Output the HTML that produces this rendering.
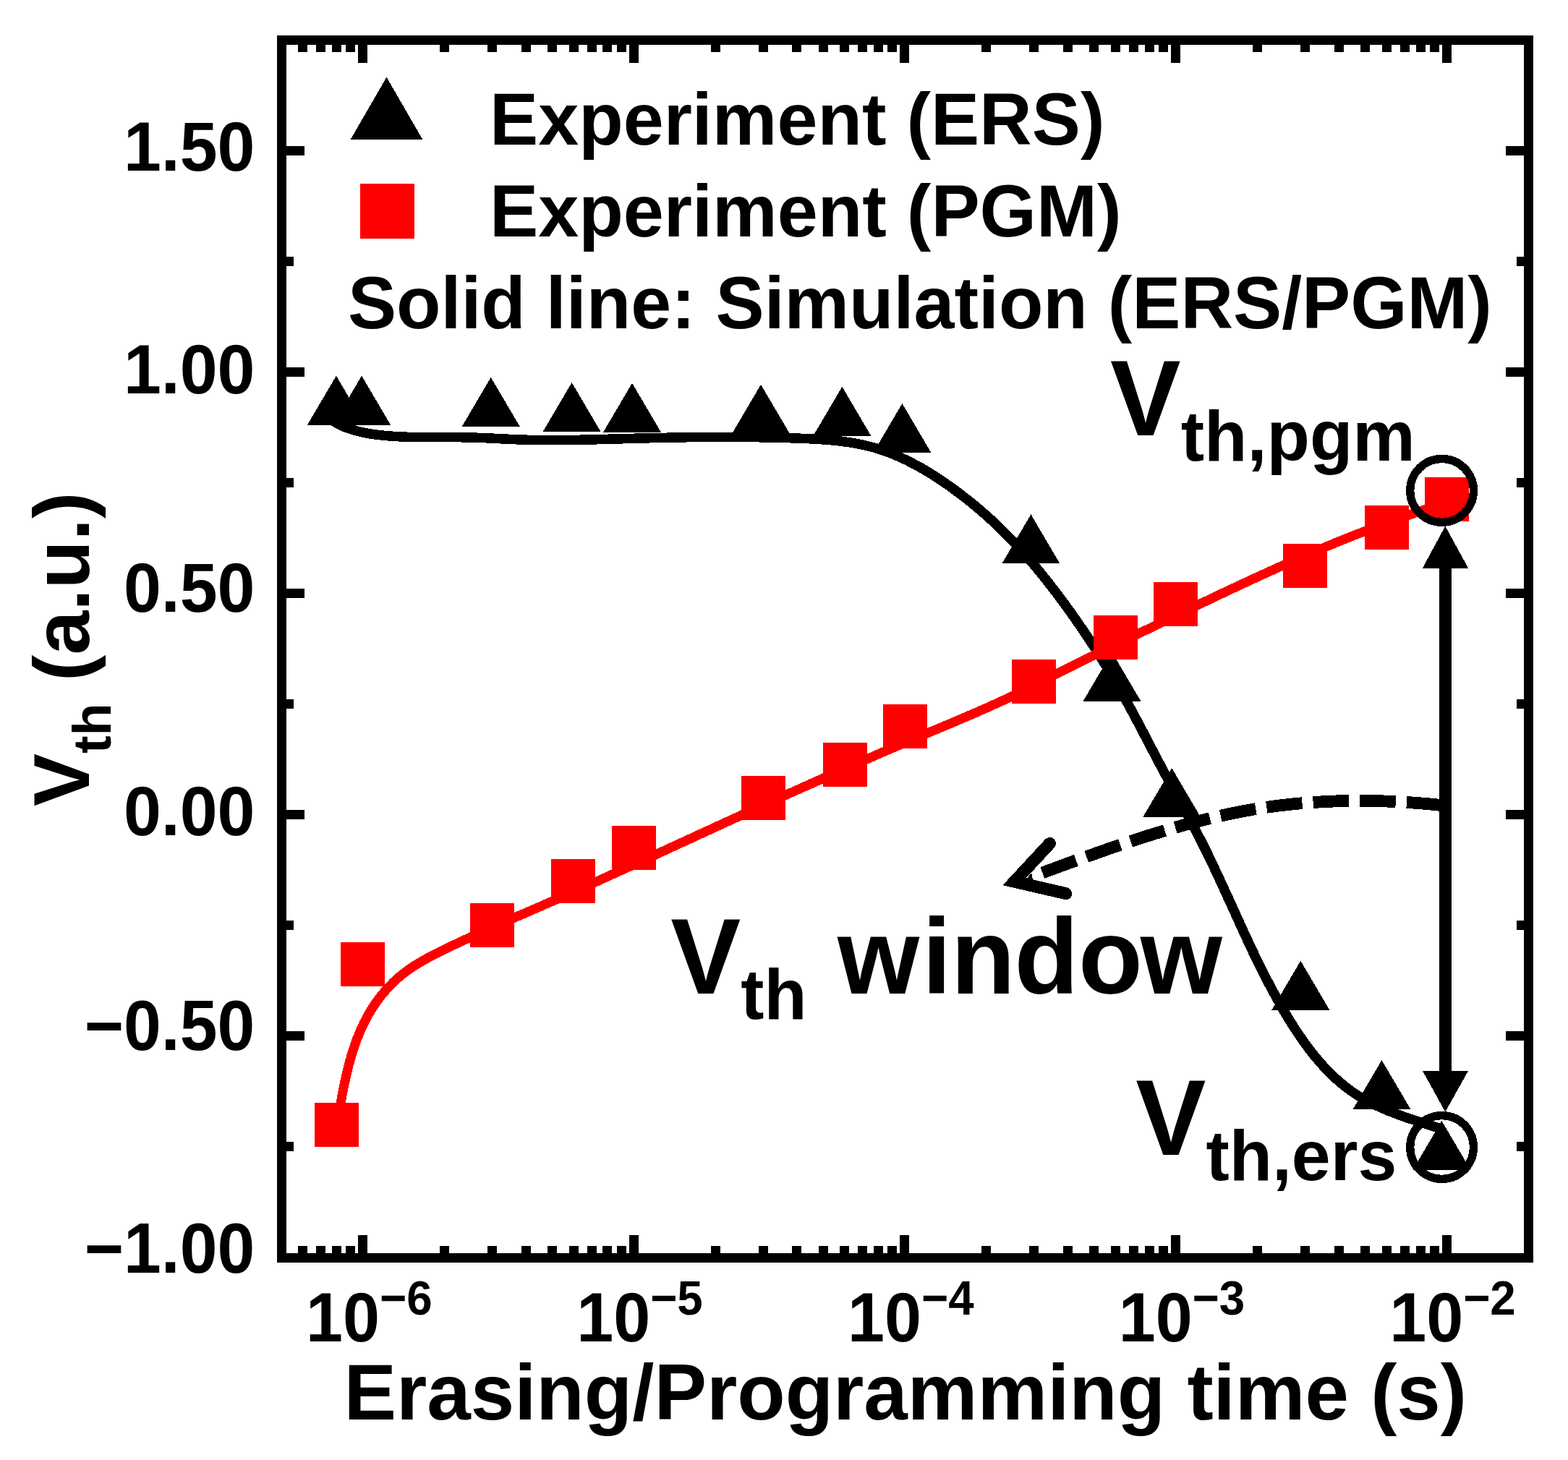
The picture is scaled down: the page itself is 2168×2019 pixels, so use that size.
<!DOCTYPE html>
<html lang="en">
<head>
<meta charset="utf-8">
<title>Vth vs Erasing/Programming time</title>
<style>
html,body{margin:0;padding:0;background:#fff;}
body{width:2168px;height:2019px;overflow:hidden;}
svg{display:block;}
text{font-family:"Liberation Sans",sans-serif;font-weight:700;fill:#000;}
.crisp{shape-rendering:crispEdges;}
</style>
</head>
<body>
<svg width="2168" height="2019" viewBox="0 0 2168 2019" role="img" aria-label="Vth versus erasing/programming time">
<rect width="2168" height="2019" fill="#fff"/>
<path d="M454.8 578.7 L465.3 585.1 L476.1 590.3 L487.3 594.3 L498.8 597.4 L510.5 599.7 L522.3 601.4 L534.3 602.6 L546.2 603.5 L558.3 604.1 L570.4 604.5 L582.5 604.7 L594.6 604.7 L606.8 604.7 L618.9 604.7 L631.1 604.7 L643.2 604.8 L655.3 605.1 L667.3 605.5 L679.3 606.1 L691.3 606.7 L703.3 607.3 L715.3 607.8 L727.3 608.2 L739.3 608.5 L751.3 608.6 L763.4 608.7 L775.4 608.6 L787.5 608.5 L799.6 608.3 L811.6 608.1 L823.7 607.8 L835.7 607.4 L847.8 607.1 L859.9 606.8 L871.9 606.4 L884.0 606.1 L896.0 605.8 L908.0 605.5 L920.1 605.3 L932.1 605.0 L944.1 604.8 L956.1 604.7 L968.2 604.5 L980.2 604.5 L992.2 604.4 L1004.2 604.4 L1016.3 604.4 L1028.3 604.5 L1040.4 604.6 L1052.4 604.8 L1064.5 605.0 L1076.6 605.3 L1088.7 605.6 L1100.8 606.0 L1112.9 606.5 L1125.0 607.0 L1137.1 607.8 L1149.2 608.7 L1161.2 610.0 L1173.1 611.6 L1184.9 613.5 L1196.6 616.0 L1208.2 618.9 L1219.6 622.4 L1230.9 626.5 L1241.9 631.1 L1252.9 636.1 L1263.6 641.6 L1274.2 647.4 L1284.7 653.6 L1294.9 660.1 L1305.0 666.8 L1315.0 673.8 L1324.7 681.0 L1334.3 688.3 L1343.7 695.8 L1353.0 703.5 L1362.1 711.4 L1371.0 719.4 L1379.7 727.7 L1388.3 736.1 L1396.8 744.7 L1405.0 753.4 L1413.2 762.3 L1421.1 771.3 L1429.0 780.5 L1436.7 789.7 L1444.3 799.1 L1451.8 808.6 L1459.2 818.1 L1466.4 827.8 L1473.6 837.5 L1480.6 847.2 L1487.6 857.1 L1494.4 867.0 L1501.2 877.0 L1507.8 887.0 L1514.4 897.1 L1520.8 907.3 L1527.2 917.5 L1533.4 927.8 L1539.6 938.2 L1545.7 948.6 L1551.6 959.1 L1557.5 969.6 L1563.3 980.2 L1569.0 990.8 L1574.6 1001.4 L1580.3 1012.1 L1585.8 1022.8 L1591.4 1033.5 L1597.0 1044.1 L1602.6 1054.8 L1608.3 1065.5 L1614.0 1076.1 L1619.7 1086.7 L1625.5 1097.2 L1631.3 1107.8 L1637.1 1118.4 L1642.9 1129.0 L1648.6 1139.6 L1654.2 1150.2 L1659.7 1160.9 L1665.1 1171.7 L1670.5 1182.5 L1675.7 1193.4 L1680.8 1204.2 L1685.9 1215.2 L1691.0 1226.1 L1696.0 1237.1 L1701.0 1248.0 L1706.0 1259.0 L1711.0 1270.0 L1716.0 1280.9 L1721.0 1291.9 L1726.1 1302.8 L1731.2 1313.7 L1736.4 1324.6 L1741.7 1335.4 L1747.1 1346.1 L1752.6 1356.8 L1758.2 1367.5 L1764.0 1378.1 L1769.9 1388.6 L1775.9 1399.1 L1782.1 1409.4 L1788.5 1419.7 L1795.2 1429.8 L1802.1 1439.8 L1809.2 1449.6 L1816.6 1459.1 L1824.4 1468.4 L1832.4 1477.3 L1840.8 1485.8 L1849.6 1494.0 L1858.7 1501.6 L1868.2 1508.8 L1878.1 1515.4 L1888.5 1521.5 L1899.1 1527.0 L1910.1 1532.1 L1921.3 1536.8 L1932.7 1541.2 L1944.1 1545.3 L1955.7 1549.1 L1967.2 1552.9 L1978.6 1556.5 L1989.9 1560.1" fill="none" stroke="#000" stroke-width="13.5" stroke-linejoin="round" class="crisp"/>
<polygon class="crisp" points="464.9,519.7 504.9,587.7 424.9,587.7" fill="#000"/>
<polygon class="crisp" points="500.1,519.7 540.1,587.7 460.1,587.7" fill="#000"/>
<polygon class="crisp" points="678.7,521.8 718.7,589.8 638.7,589.8" fill="#000"/>
<polygon class="crisp" points="790.6,529 830.6,597 750.6,597" fill="#000"/>
<polygon class="crisp" points="874,529.8 914,597.8 834,597.8" fill="#000"/>
<polygon class="crisp" points="1052,531.8 1092,599.8 1012,599.8" fill="#000"/>
<polygon class="crisp" points="1164.4,534.8 1204.4,602.8 1124.4,602.8" fill="#000"/>
<polygon class="crisp" points="1247.4,558 1287.4,626 1207.4,626" fill="#000"/>
<polygon class="crisp" points="1425.4,711.3 1465.4,779.3 1385.4,779.3" fill="#000"/>
<polygon class="crisp" points="1537.5,901.8 1577.5,969.8 1497.5,969.8" fill="#000"/>
<polygon class="crisp" points="1620.2,1062.1 1660.2,1130.1 1580.2,1130.1" fill="#000"/>
<polygon class="crisp" points="1798.3,1328.7 1838.3,1396.7 1758.3,1396.7" fill="#000"/>
<polygon class="crisp" points="1910.5,1466.1 1950.5,1534.1 1870.5,1534.1" fill="#000"/>
<polygon class="crisp" points="1993.4,1549.9 2033.4,1617.9 1953.4,1617.9" fill="#000"/>
<path d="M466.0 1554.8 L468.0 1543.3 L470.0 1531.5 L472.1 1519.7 L474.3 1507.9 L476.8 1496.0 L479.4 1484.2 L482.3 1472.4 L485.6 1460.7 L489.2 1449.1 L493.2 1437.8 L497.7 1426.6 L502.7 1415.6 L508.2 1405.0 L514.4 1394.6 L521.1 1384.7 L528.4 1375.1 L536.3 1366.0 L544.7 1357.5 L553.7 1349.5 L563.2 1342.2 L573.1 1335.5 L583.3 1329.3 L593.8 1323.4 L604.6 1317.9 L615.4 1312.5 L626.3 1307.3 L637.3 1302.1 L648.2 1297.1 L659.2 1292.1 L670.2 1287.1 L681.2 1282.2 L692.2 1277.4 L703.2 1272.5 L714.2 1267.7 L725.3 1263.0 L736.3 1258.2 L747.3 1253.4 L758.3 1248.6 L769.4 1243.8 L780.4 1238.9 L791.4 1234.0 L802.3 1229.1 L813.3 1224.2 L824.3 1219.3 L835.3 1214.3 L846.2 1209.4 L857.2 1204.4 L868.2 1199.4 L879.1 1194.4 L890.1 1189.4 L901.0 1184.4 L911.9 1179.3 L922.9 1174.3 L933.8 1169.3 L944.8 1164.2 L955.7 1159.2 L966.6 1154.1 L977.6 1149.1 L988.5 1144.1 L999.4 1139.0 L1010.4 1134.0 L1021.3 1129.0 L1032.3 1124.0 L1043.2 1119.0 L1054.2 1114.0 L1065.2 1109.0 L1076.1 1104.1 L1087.1 1099.1 L1098.1 1094.2 L1109.0 1089.3 L1120.0 1084.4 L1131.0 1079.5 L1142.0 1074.6 L1153.0 1069.7 L1164.0 1064.9 L1175.1 1060.0 L1186.1 1055.2 L1197.1 1050.4 L1208.1 1045.6 L1219.2 1040.8 L1230.2 1036.0 L1241.3 1031.3 L1252.4 1026.6 L1263.5 1021.8 L1274.5 1017.2 L1285.6 1012.5 L1296.7 1007.8 L1307.8 1003.1 L1318.9 998.5 L1330.0 993.8 L1341.1 989.0 L1352.1 984.2 L1363.1 979.4 L1374.1 974.4 L1385.1 969.4 L1396.0 964.3 L1406.8 959.0 L1417.6 953.7 L1428.3 948.3 L1439.1 942.8 L1449.8 937.4 L1460.5 931.9 L1471.3 926.5 L1482.1 921.1 L1492.8 915.8 L1503.6 910.5 L1514.4 905.2 L1525.3 899.9 L1536.1 894.7 L1546.9 889.4 L1557.7 884.2 L1568.6 879.0 L1579.4 873.7 L1590.2 868.5 L1601.1 863.2 L1611.9 858.0 L1622.8 852.8 L1633.6 847.5 L1644.5 842.3 L1655.3 837.1 L1666.2 831.9 L1677.0 826.7 L1687.9 821.5 L1698.8 816.4 L1709.7 811.3 L1720.6 806.2 L1731.5 801.1 L1742.5 796.1 L1753.4 791.1 L1764.4 786.1 L1775.4 781.2 L1786.4 776.4 L1797.4 771.5 L1808.5 766.7 L1819.5 762.0 L1830.6 757.3 L1841.7 752.7 L1852.8 748.1 L1864.0 743.6 L1875.2 739.2 L1886.4 734.8 L1897.6 730.5 L1908.9 726.3 L1920.2 722.1 L1931.5 718.0 L1942.8 714.0 L1954.2 710.1 L1965.6 706.2 L1977.1 702.4 L1988.6 698.8 L2000.1 695.2" fill="none" stroke="#f00" stroke-width="13" stroke-linejoin="round" class="crisp"/>
<g shape-rendering="crispEdges">
<rect x="435" y="1525" width="61" height="61" fill="#f00"/>
<rect x="471" y="1303" width="61" height="61" fill="#f00"/>
<rect x="650" y="1249" width="61" height="61" fill="#f00"/>
<rect x="762" y="1188" width="61" height="61" fill="#f00"/>
<rect x="846" y="1142" width="61" height="61" fill="#f00"/>
<rect x="1024.5" y="1073" width="61" height="61" fill="#f00"/>
<rect x="1138" y="1027" width="61" height="61" fill="#f00"/>
<rect x="1221" y="974" width="61" height="61" fill="#f00"/>
<rect x="1399" y="912" width="61" height="61" fill="#f00"/>
<rect x="1512" y="851" width="61" height="61" fill="#f00"/>
<rect x="1595" y="805" width="61" height="61" fill="#f00"/>
<rect x="1774" y="752" width="61" height="61" fill="#f00"/>
<rect x="1887" y="699" width="61" height="61" fill="#f00"/>
<rect x="1970" y="660" width="61" height="61" fill="#f00"/>
</g>
<g shape-rendering="crispEdges">
<path d="M383 49H2120V1746H383Z M396 62V1733H2107V62Z" fill="#000" fill-rule="evenodd"/>
<rect x="412" y="62" width="13" height="10" fill="#000"/>
<rect x="412" y="1723" width="13" height="10" fill="#000"/>
<rect x="437" y="62" width="13" height="10" fill="#000"/>
<rect x="437" y="1723" width="13" height="10" fill="#000"/>
<rect x="459" y="62" width="13" height="10" fill="#000"/>
<rect x="459" y="1723" width="13" height="10" fill="#000"/>
<rect x="478" y="62" width="13" height="10" fill="#000"/>
<rect x="478" y="1723" width="13" height="10" fill="#000"/>
<rect x="495" y="62" width="13" height="25" fill="#000"/>
<rect x="495" y="1708" width="13" height="25" fill="#000"/>
<rect x="608" y="62" width="13" height="10" fill="#000"/>
<rect x="608" y="1723" width="13" height="10" fill="#000"/>
<rect x="674" y="62" width="13" height="10" fill="#000"/>
<rect x="674" y="1723" width="13" height="10" fill="#000"/>
<rect x="721" y="62" width="13" height="10" fill="#000"/>
<rect x="721" y="1723" width="13" height="10" fill="#000"/>
<rect x="757" y="62" width="13" height="10" fill="#000"/>
<rect x="757" y="1723" width="13" height="10" fill="#000"/>
<rect x="787" y="62" width="13" height="10" fill="#000"/>
<rect x="787" y="1723" width="13" height="10" fill="#000"/>
<rect x="812" y="62" width="13" height="10" fill="#000"/>
<rect x="812" y="1723" width="13" height="10" fill="#000"/>
<rect x="833" y="62" width="13" height="10" fill="#000"/>
<rect x="833" y="1723" width="13" height="10" fill="#000"/>
<rect x="853" y="62" width="13" height="10" fill="#000"/>
<rect x="853" y="1723" width="13" height="10" fill="#000"/>
<rect x="870" y="62" width="13" height="25" fill="#000"/>
<rect x="870" y="1708" width="13" height="25" fill="#000"/>
<rect x="983" y="62" width="13" height="10" fill="#000"/>
<rect x="983" y="1723" width="13" height="10" fill="#000"/>
<rect x="1049" y="62" width="13" height="10" fill="#000"/>
<rect x="1049" y="1723" width="13" height="10" fill="#000"/>
<rect x="1095" y="62" width="13" height="10" fill="#000"/>
<rect x="1095" y="1723" width="13" height="10" fill="#000"/>
<rect x="1132" y="62" width="13" height="10" fill="#000"/>
<rect x="1132" y="1723" width="13" height="10" fill="#000"/>
<rect x="1161" y="62" width="13" height="10" fill="#000"/>
<rect x="1161" y="1723" width="13" height="10" fill="#000"/>
<rect x="1186" y="62" width="13" height="10" fill="#000"/>
<rect x="1186" y="1723" width="13" height="10" fill="#000"/>
<rect x="1208" y="62" width="13" height="10" fill="#000"/>
<rect x="1208" y="1723" width="13" height="10" fill="#000"/>
<rect x="1227" y="62" width="13" height="10" fill="#000"/>
<rect x="1227" y="1723" width="13" height="10" fill="#000"/>
<rect x="1244" y="62" width="13" height="25" fill="#000"/>
<rect x="1244" y="1708" width="13" height="25" fill="#000"/>
<rect x="1357" y="62" width="13" height="10" fill="#000"/>
<rect x="1357" y="1723" width="13" height="10" fill="#000"/>
<rect x="1423" y="62" width="13" height="10" fill="#000"/>
<rect x="1423" y="1723" width="13" height="10" fill="#000"/>
<rect x="1470" y="62" width="13" height="10" fill="#000"/>
<rect x="1470" y="1723" width="13" height="10" fill="#000"/>
<rect x="1506" y="62" width="13" height="10" fill="#000"/>
<rect x="1506" y="1723" width="13" height="10" fill="#000"/>
<rect x="1536" y="62" width="13" height="10" fill="#000"/>
<rect x="1536" y="1723" width="13" height="10" fill="#000"/>
<rect x="1561" y="62" width="13" height="10" fill="#000"/>
<rect x="1561" y="1723" width="13" height="10" fill="#000"/>
<rect x="1583" y="62" width="13" height="10" fill="#000"/>
<rect x="1583" y="1723" width="13" height="10" fill="#000"/>
<rect x="1602" y="62" width="13" height="10" fill="#000"/>
<rect x="1602" y="1723" width="13" height="10" fill="#000"/>
<rect x="1619" y="62" width="13" height="25" fill="#000"/>
<rect x="1619" y="1708" width="13" height="25" fill="#000"/>
<rect x="1732" y="62" width="13" height="10" fill="#000"/>
<rect x="1732" y="1723" width="13" height="10" fill="#000"/>
<rect x="1798" y="62" width="13" height="10" fill="#000"/>
<rect x="1798" y="1723" width="13" height="10" fill="#000"/>
<rect x="1845" y="62" width="13" height="10" fill="#000"/>
<rect x="1845" y="1723" width="13" height="10" fill="#000"/>
<rect x="1881" y="62" width="13" height="10" fill="#000"/>
<rect x="1881" y="1723" width="13" height="10" fill="#000"/>
<rect x="1911" y="62" width="13" height="10" fill="#000"/>
<rect x="1911" y="1723" width="13" height="10" fill="#000"/>
<rect x="1936" y="62" width="13" height="10" fill="#000"/>
<rect x="1936" y="1723" width="13" height="10" fill="#000"/>
<rect x="1958" y="62" width="13" height="10" fill="#000"/>
<rect x="1958" y="1723" width="13" height="10" fill="#000"/>
<rect x="1977" y="62" width="13" height="10" fill="#000"/>
<rect x="1977" y="1723" width="13" height="10" fill="#000"/>
<rect x="1994" y="62" width="13" height="25" fill="#000"/>
<rect x="1994" y="1708" width="13" height="25" fill="#000"/>
<rect x="396" y="1579" width="10" height="13" fill="#000"/>
<rect x="2097" y="1579" width="10" height="13" fill="#000"/>
<rect x="396" y="1426" width="25" height="13" fill="#000"/>
<rect x="2082" y="1426" width="25" height="13" fill="#000"/>
<rect x="396" y="1273" width="10" height="13" fill="#000"/>
<rect x="2097" y="1273" width="10" height="13" fill="#000"/>
<rect x="396" y="1120" width="25" height="13" fill="#000"/>
<rect x="2082" y="1120" width="25" height="13" fill="#000"/>
<rect x="396" y="967" width="10" height="13" fill="#000"/>
<rect x="2097" y="967" width="10" height="13" fill="#000"/>
<rect x="396" y="814" width="25" height="13" fill="#000"/>
<rect x="2082" y="814" width="25" height="13" fill="#000"/>
<rect x="396" y="661" width="10" height="13" fill="#000"/>
<rect x="2097" y="661" width="10" height="13" fill="#000"/>
<rect x="396" y="508" width="25" height="13" fill="#000"/>
<rect x="2082" y="508" width="25" height="13" fill="#000"/>
<rect x="396" y="355" width="10" height="13" fill="#000"/>
<rect x="2097" y="355" width="10" height="13" fill="#000"/>
<rect x="396" y="202" width="25" height="13" fill="#000"/>
<rect x="2082" y="202" width="25" height="13" fill="#000"/>
</g>

<g fill="none" stroke="#000" class="crisp">
<path d="M1441.4 1206.9 L1448.9 1204.1 L1456.4 1201.4 L1464.0 1198.6 L1471.5 1195.8 L1479.0 1193.1 L1486.6 1190.3 L1494.2 1187.6 L1501.7 1184.9 L1509.3 1182.2 L1516.9 1179.5 L1524.5 1176.8 L1532.1 1174.1 L1539.7 1171.5 L1547.3 1168.9 L1555.0 1166.3 L1562.6 1163.7 L1570.3 1161.2 L1577.9 1158.7 L1585.6 1156.3 L1593.3 1153.8 L1601.0 1151.5 L1608.7 1149.1 L1616.4 1146.8 L1624.1 1144.6 L1631.9 1142.4 L1639.6 1140.2 L1647.4 1138.1 L1655.1 1136.1 L1662.9 1134.1 L1670.7 1132.2 L1678.5 1130.3 L1686.3 1128.5 L1694.2 1126.8 L1702.0 1125.1 L1709.9 1123.5 L1717.7 1122.0 L1725.6 1120.5 L1733.5 1119.1 L1741.4 1117.8 L1749.3 1116.6 L1757.3 1115.5 L1765.2 1114.4 L1773.2 1113.5 L1781.1 1112.6 L1789.1 1111.7 L1797.1 1111.0 L1805.1 1110.3 L1813.1 1109.7 L1821.1 1109.2 L1829.1 1108.7 L1837.2 1108.3 L1845.2 1108.0 L1853.2 1107.7 L1861.3 1107.5 L1869.3 1107.4 L1877.4 1107.4 L1885.4 1107.4 L1893.5 1107.5 L1901.5 1107.6 L1909.6 1107.8 L1917.6 1108.1 L1925.7 1108.4 L1933.7 1108.8 L1941.8 1109.3 L1949.9 1109.8 L1957.9 1110.4 L1966.0 1111.0 L1974.0 1111.7 L1982.1 1112.4 L1990.1 1113.3 L1998.1 1114.1" stroke-width="16.8" stroke-dasharray="49.5 15.2"/>
<path d="M1451.5 1166.4L1402.6 1219.2L1473.7 1235.6" stroke-width="17" stroke-linecap="round" stroke-linejoin="miter" stroke-miterlimit="10"/>
<circle cx="1993.6" cy="678.4" r="43.9" stroke-width="11.3"/>
<circle cx="1993.6" cy="1586.5" r="43.9" stroke-width="11.3"/>
</g>
<g fill="#000" shape-rendering="crispEdges">
<rect x="1990" y="780" width="17" height="706"/>
</g>
<polygon class="crisp" points="1419.5,1214.8 1426.1,1207.5 1428.2,1216.6" fill="#000"/>
<polygon class="crisp" points="1998.3,727.6 2030,785.5 1967,785.5" fill="#000"/>
<polygon class="crisp" points="1998.3,1537.6 2030,1481 1967,1481" fill="#000"/>


<polygon class="crisp" points="534.5,106.7 584.1,192.5 484.9,192.5" fill="#000"/>
<rect x="498" y="254" width="75" height="76" fill="#f00" shape-rendering="crispEdges"/>
<text transform="translate(677.0 199.8) scale(0.9892 1.0)" font-size="101.8">Experiment (ERS)</text>
<text transform="translate(677.0 326.9) scale(0.9900 1.0)" font-size="101.8">Experiment (PGM)</text>
<text transform="translate(480.9 453.9) scale(0.9884 1.0)" font-size="101.8">Solid line: Simulation (ERS/PGM)</text>
<text transform="translate(170.9 235.9) scale(0.9971 1.04)" font-size="93.6">1.50</text>
<text transform="translate(170.9 543.8) scale(0.9971 1.04)" font-size="93.6">1.00</text>
<text transform="translate(170.9 845.8) scale(0.9971 1.04)" font-size="93.6">0.50</text>
<text transform="translate(170.9 1154.8) scale(0.9971 1.04)" font-size="93.6">0.00</text>
<text transform="translate(116.8 1451.8) scale(0.9939 1.04)" font-size="93.6">−0.50</text>
<text transform="translate(116.8 1759.9) scale(0.9939 1.04)" font-size="93.6">−1.00</text>
<text transform="translate(423.1 1854.8) scale(0.9790 1.04)" font-size="93.6">10<tspan font-size="65" dy="-35.8">−6</tspan></text>
<text transform="translate(797.3 1854.8) scale(0.9790 1.04)" font-size="93.6">10<tspan font-size="65" dy="-35.8">−5</tspan></text>
<text transform="translate(1172.1 1854.8) scale(0.9790 1.04)" font-size="93.6">10<tspan font-size="65" dy="-35.8">−4</tspan></text>
<text transform="translate(1546.7 1854.8) scale(0.9790 1.04)" font-size="93.6">10<tspan font-size="65" dy="-35.8">−3</tspan></text>
<text transform="translate(1921.3 1854.8) scale(0.9790 1.04)" font-size="93.6">10<tspan font-size="65" dy="-35.8">−2</tspan></text>
<text transform="translate(475.4 1963.2) scale(1.0012 1.0)" font-size="108.6">Erasing/Programming time (s)</text>
<text transform="translate(122.9 1115.0) rotate(-90) scale(1.0038 1.0)" font-size="109">V<tspan font-size="73.6" dy="30.3">th</tspan><tspan dy="-30.3"> (a.u.)</tspan></text>
<text transform="translate(1535.0 601.5) scale(1.0029 1.02)" font-size="146">V<tspan font-size="97" dy="34.6">th,pgm</tspan></text>
<text transform="translate(927.2 1374.0) scale(0.9965 1.02)" font-size="146">V<tspan font-size="97" dy="34.3">th</tspan><tspan dy="-34.3" dx="0 2 4 -0.8 -1 -0.5 -3"> window</tspan></text>
<text transform="translate(1570.2 1596.6) scale(0.9989 1.02)" font-size="146">V<tspan font-size="97" dy="34.5">th,ers</tspan></text>
</svg>
</body>
</html>
